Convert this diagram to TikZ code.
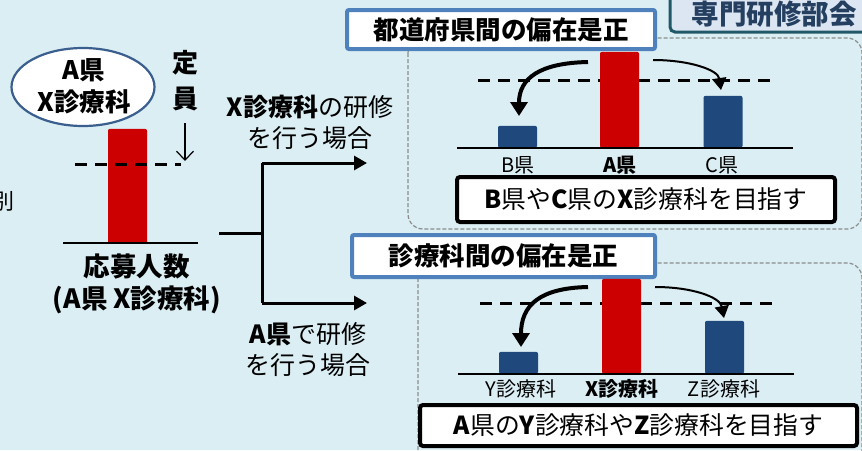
\documentclass[tikz,border=0pt]{standalone}
\usepackage{fontspec}
\setmainfont{Noto Sans CJK JP}
\usetikzlibrary{shapes.geometric,arrows.meta,calc}
\definecolor{bg}{HTML}{DAEEF3}
\definecolor{barred}{HTML}{CC0000}
\definecolor{barblue}{HTML}{1F497D}
\definecolor{titleblue}{HTML}{4F81BD}
\definecolor{ellblue}{HTML}{3A5F8F}
\definecolor{bureauline}{HTML}{215868}
\definecolor{bureaufill}{HTML}{DCE6F2}
\definecolor{bureautext}{HTML}{243F60}
\definecolor{panelgray}{HTML}{8C8C8C}
\tikzset{
  bigtext/.style={font=\fontsize{25}{31}\selectfont, inner sep=0pt, align=center},
  lbl/.style={font=\fontsize{20}{24}\selectfont, inner sep=0pt},
  barshape/.style={minimum width=39pt, inner sep=0pt, rounded corners=2pt, anchor=south, draw=none},
  redbar/.style={barshape, fill=barred},
  bluebar/.style={barshape, fill=barblue},
  quota/.style={line width=3pt, dash pattern=on 12pt off 8pt},
  axis/.style={line width=1.6pt},
  panel/.style={draw=panelgray, line width=1.2pt, dash pattern=on 4pt off 2pt, rounded corners=15pt},
  titlebox/.style={draw=titleblue, line width=4pt, fill=white, rounded corners=2pt, inner sep=0pt, font=\fontsize{25.5}{30}\selectfont\bfseries},
  goalbox/.style={draw=black, line width=4pt, fill=white, rounded corners=3pt, inner sep=0pt, font=\fontsize{24.8}{30}\selectfont},
  bigarrow/.style={line width=4pt, -{Triangle[length=14pt,width=17pt]}},
  smallarrow/.style={line width=2pt, -{Triangle[length=12pt,width=14pt]}},
  branch/.style={line width=3pt},
  brancharrow/.style={line width=3pt, -{Triangle[length=13pt,width=14pt]}},
}
\begin{document}
\begin{tikzpicture}[x=1pt,y=-1pt]
\useasboundingbox (0,0) rectangle (862,450);
\fill[bg] (0,0) rectangle (862,450);

% left part
\node[lbl, font=\fontsize{22}{26}\selectfont] (betsu) at (4,201) {別};
\node[ellipse, draw=ellblue, line width=2.2pt, fill=white, minimum width=143pt, minimum height=78pt, inner sep=0pt] (ell) at (83,87) {};
\node[bigtext, font=\fontsize{25.5}{32}\selectfont\bfseries] (elltext) at (84,86) {A県\\X診療科};
\node[bigtext, font=\fontsize{26}{36}\selectfont\bfseries] (teiin) at (185,81) {定\\員};
\coordinate (dtop) at (185,123);
\coordinate (dbot) at (185,161);
\draw[line width=1.2pt, -{Straight Barb[length=9pt,width=17pt]}] (dtop) -- (dbot);
\node[redbar, minimum height=115pt] (bar0) at (127.5,244) {};
\draw[quota] (75,164) -- (181,164);
\draw[axis] (63,243) -- (198,243);
\node[bigtext, font=\fontsize{26.5}{32}\selectfont\bfseries] (appl) at (137,284) {応募人数\\(A県 X診療科)};

% branch
\coordinate (src) at (219,233);
\coordinate (jn) at (262,233);
\coordinate (jtop) at (262,163);
\coordinate (jbot) at (262,303);
\coordinate (etop) at (367,163);
\coordinate (ebot) at (367,303);
\draw[branch] (src) -- (jn);
\draw[branch] (jtop) -- (jbot);
\draw[brancharrow] (jtop) -- (etop);
\draw[brancharrow] (jbot) -- (ebot);
\node[bigtext] (caseX) at (310,122) {\textbf{X診療科}の研修\\を行う場合};
\node[bigtext] (caseA) at (308,350) {\textbf{A県}で研修\\を行う場合};

% bureau label
\draw[draw=bureauline, line width=3pt, fill=bureaufill, rounded corners=5pt] (670,-10) rectangle (880,32);
\node[font=\fontsize{27.5}{30}\selectfont\bfseries, text=bureautext, inner sep=0pt] (bureau) at (774,14) {専門研修部会};

% panel 1
\draw[panel] (408,38) rectangle (862,229);
\node[titlebox, minimum width=308pt, minimum height=39pt] (t1) at (501,29.5) {都道府県間の偏在是正};
\draw[quota] (478,80) -- (772,80);
\node[bluebar, minimum height=22pt] (bB) at (517.5,148) {};
\node[redbar, minimum height=96pt] (bA) at (619.5,148) {};
\node[bluebar, minimum height=52pt] (bC) at (723,148) {};
\draw[axis] (457,148) -- (793,148);
\node[lbl] (lB) at (518,165) {B県};
\node[lbl, font=\fontsize{20}{24}\selectfont\bfseries] (lA) at (620,165) {A県};
\node[lbl] (lC) at (722,165) {C県};
\coordinate (a1s) at (588,62);
\coordinate (a1e) at (519,116);
\coordinate (a2s) at (653,60);
\coordinate (a2e) at (721,90);
\draw[bigarrow] (a1s) .. controls (540,63) and (519,78) .. (a1e);
\draw[smallarrow] (a2s) .. controls (690,60) and (718,70) .. (a2e);
\node[goalbox, minimum width=378pt, minimum height=45pt] (g1) at (646,199.5) {\textbf{B}県や\textbf{C}県の\textbf{X}診療科を目指す};

% panel 2
\draw[panel] (418,263) rectangle (862,480);
\node[titlebox, minimum width=303pt, minimum height=42pt] (t2) at (503.5,256) {診療科間の偏在是正};
\draw[quota] (480,303) -- (773,303);
\node[bluebar, minimum height=22pt] (bY) at (518.5,374) {};
\node[redbar, minimum height=95pt] (bX) at (621.5,374) {};
\node[bluebar, minimum height=53pt] (bZ) at (724.5,374) {};
\draw[axis] (458,374) -- (794,374);
\node[lbl] (lY) at (521,389) {Y診療科};
\node[lbl, font=\fontsize{20}{24}\selectfont\bfseries] (lX) at (622,389) {X診療科};
\node[lbl] (lZ) at (724,389) {Z診療科};
\coordinate (a3s) at (588,287);
\coordinate (a3e) at (521,347);
\coordinate (a4s) at (655,287);
\coordinate (a4e) at (724,318);
\draw[bigarrow] (a3s) .. controls (540,288) and (521,305) .. (a3e);
\draw[smallarrow] (a4s) .. controls (692,287) and (720,297) .. (a4e);
\node[goalbox, minimum width=437pt, minimum height=41pt] (g2) at (638.5,425.5) {\textbf{A}県の\textbf{Y}診療科や\textbf{Z}診療科を目指す};
\end{tikzpicture}
\end{document}
